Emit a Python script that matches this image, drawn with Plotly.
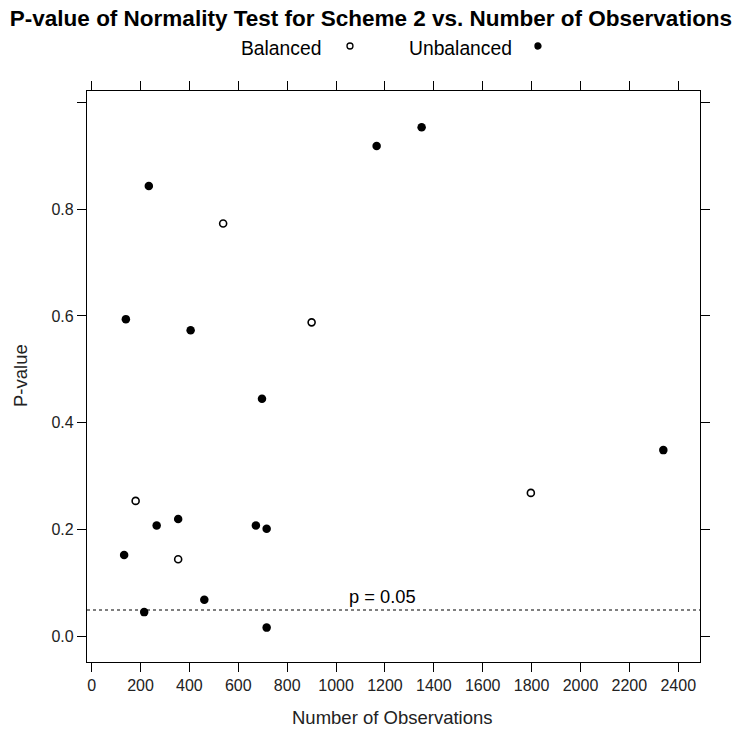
import plotly.graph_objects as go

# Data
balanced_n = [180, 354, 538, 900, 1797]
balanced_p = [0.254, 0.145, 0.773, 0.588, 0.269]

unbalanced_n = [133, 140, 215, 234, 266, 354, 405, 461, 672, 697, 716, 716, 1166, 1350, 2339]
unbalanced_p = [0.153, 0.594, 0.046, 0.843, 0.208, 0.220, 0.573, 0.069, 0.208, 0.445, 0.202, 0.017, 0.918, 0.953, 0.349]

x_ticks = list(range(0, 2401, 200))
y_ticks = [0.0, 0.2, 0.4, 0.6, 0.8, 1.0]
y_tick_text = ["0.0", "0.2", "0.4", "0.6", "0.8", ""]
threshold = 0.05

FONT = "Liberation Sans, Arial, sans-serif"

fig = go.Figure()
fig.add_trace(go.Scatter(
    x=balanced_n, y=balanced_p, mode="markers", name="Balanced",
    marker=dict(symbol="circle-open", size=7, color="black", line=dict(width=1.6, color="black")),
    showlegend=False))
fig.add_trace(go.Scatter(
    x=unbalanced_n, y=unbalanced_p, mode="markers", name="Unbalanced",
    marker=dict(symbol="circle", size=8.5, color="black"),
    showlegend=False))

fig.add_hline(y=threshold, line=dict(color="black", width=1.2, dash="dot"))

axis_common = dict(showline=True, linecolor="black", linewidth=1.2, mirror="allticks",
                   ticks="outside", ticklen=9, tickwidth=1.2, tickcolor="black",
                   showgrid=False, zeroline=False,
                   tickfont=dict(family=FONT, size=16, color="#222"))

fig.update_layout(
    width=742, height=729,
    margin=dict(l=87, r=42, t=91, b=67),
    paper_bgcolor="white", plot_bgcolor="white",
    font=dict(family=FONT, color="black"),
    title=dict(text="<b>P-value of Normality Test for Scheme 2 vs. Number of Observations</b>",
               x=0.5, xref="container", xanchor="center", y=1 - 18 / 729, yref="container", yanchor="middle",
               font=dict(family=FONT, size=22.5, color="black")),
    xaxis=dict(range=[-19, 2489], tickvals=x_ticks, **axis_common),
    yaxis=dict(range=[-0.0473, 1.0207], tickvals=y_ticks, ticktext=y_tick_text, **axis_common),
)

annotations = [
    dict(text="p = 0.05", x=1192, y=threshold, xref="x", yref="y", yanchor="bottom", yshift=1,
         showarrow=False, font=dict(family=FONT, size=18.3, color="black")),
    dict(text="Number of Observations", x=0.499, y=-0.098, xref="paper", yref="paper",
         showarrow=False, xanchor="center", yanchor="middle", font=dict(family=FONT, size=18.5, color="#222")),
    dict(text="P-value", x=-0.1093, y=0.5026, xref="paper", yref="paper", textangle=-90,
         showarrow=False, xanchor="center", yanchor="middle", font=dict(family=FONT, size=18.5, color="#222")),
    dict(text="Balanced", x=0.3165, y=1.075, xref="paper", yref="paper",
         showarrow=False, xanchor="center", yanchor="middle", font=dict(family=FONT, size=19.3, color="black")),
    dict(text="Unbalanced", x=0.6085, y=1.075, xref="paper", yref="paper",
         showarrow=False, xanchor="center", yanchor="middle", font=dict(family=FONT, size=19.3, color="black")),
]
fig.update_layout(annotations=annotations)

# legend keys
for xp, filled in [(0.429, False), (0.7357, True)]:
    fig.add_shape(type="circle", xref="paper", yref="paper", xsizemode="pixel", ysizemode="pixel",
                  xanchor=xp, yanchor=1.0788, x0=-3, x1=3, y0=-3, y1=3,
                  line=dict(color="black", width=1.3),
                  fillcolor="black" if filled else "white")

fig.write_html("out.html")
